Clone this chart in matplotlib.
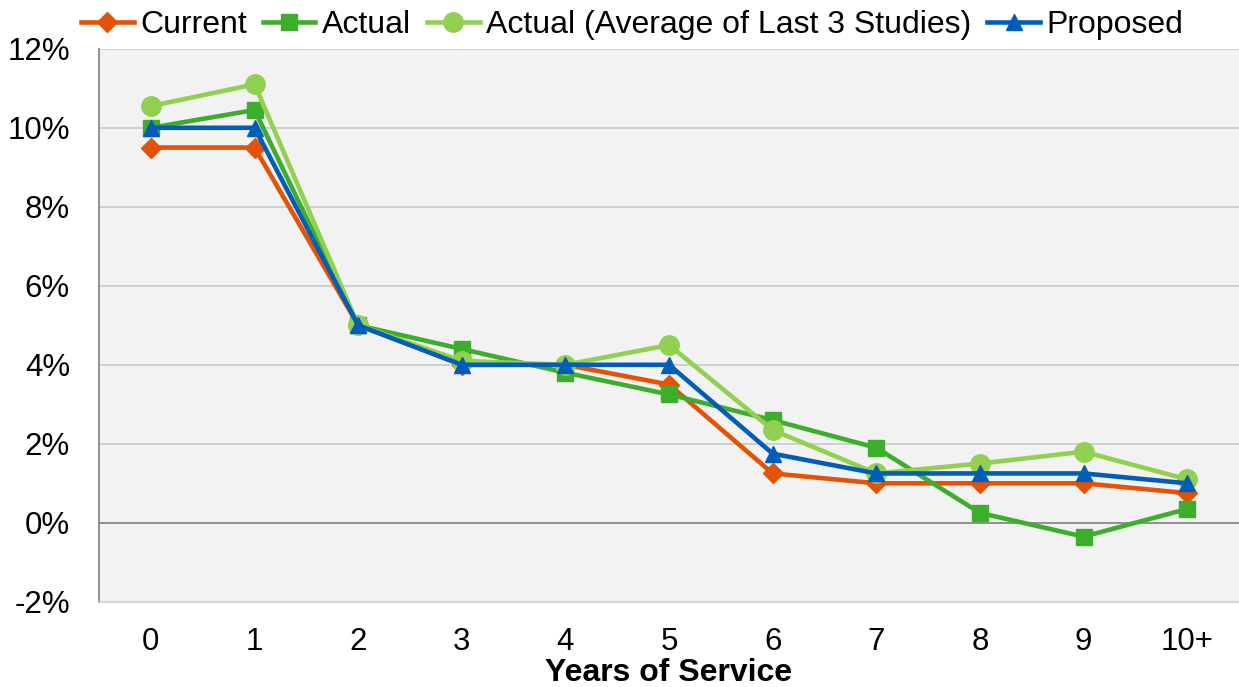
import matplotlib.pyplot as plt
import numpy as np

plt.rcParams['font.family'] = ['Liberation Sans', 'DejaVu Sans']

years = ['0', '1', '2', '3', '4', '5', '6', '7', '8', '9', '10+']
current = [9.5, 9.5, 5.0, 4.0, 4.0, 3.5, 1.25, 1.0, 1.0, 1.0, 0.75]
actual = [10.0, 10.45, 5.0, 4.4, 3.8, 3.25, 2.6, 1.9, 0.25, -0.35, 0.35]
actual_avg3 = [10.55, 11.1, 5.0, 4.1, 4.0, 4.5, 2.35, 1.25, 1.5, 1.8, 1.1]
proposed = [10.0, 10.0, 5.0, 4.0, 4.0, 4.0, 1.75, 1.25, 1.25, 1.25, 1.0]

fig = plt.figure(figsize=(12.39, 6.87), dpi=100)
ax = fig.add_axes([0.08, 0.124, 0.92, 0.805])
ax.set_facecolor('#F2F2F2')

x = np.arange(len(years))
ax.plot(x, current, color='#E35205', lw=3.3, marker='D', ms=10, label='Current', zorder=3)
ax.plot(x, actual, color='#3DAE2B', lw=3.3, marker='s', ms=12, label='Actual', zorder=3)
ax.plot(x, actual_avg3, color='#92D050', lw=3.3, marker='o', ms=14,
        label='Actual (Average of Last 3 Studies)', zorder=3)
ax.plot(x, proposed, color='#005EB8', lw=3.3, marker='^', ms=12, label='Proposed', zorder=4)

ax.set_xlim(-0.5, len(years) - 0.5)
ax.set_ylim(-2, 12)
ax.set_yticks(np.arange(-2, 13, 2))
ax.set_yticklabels(['{}%'.format(v) for v in range(-2, 13, 2)])
ax.set_xticks(x)
ax.set_xticklabels(years)
ax.tick_params(labelsize=22.5, length=0)
ax.tick_params(axis='y', pad=21)
ax.tick_params(axis='x', pad=18)

for v in range(2, 13, 2):
    ax.axhline(v, color='#C8C8C8', lw=1.2, zorder=1)
ax.axhline(0, color='#7F7F7F', lw=1.2, zorder=1)

for s in ['top', 'right']:
    ax.spines[s].set_visible(False)
ax.spines['left'].set_color('#7F7F7F')
ax.spines['left'].set_linewidth(1.2)
ax.spines['bottom'].set_color('#D0D0D0')
ax.spines['bottom'].set_linewidth(1.2)

ax.set_xlabel('Years of Service', fontsize=23, fontweight='bold', labelpad=1)

ax.legend(loc='lower left', bbox_to_anchor=(-0.016, 1.015), ncol=4, frameon=False,
          fontsize=23, handlelength=1.65, handletextpad=0.2, columnspacing=0.5,
          borderaxespad=0, borderpad=0)

fig.savefig('out.png', dpi=100)
